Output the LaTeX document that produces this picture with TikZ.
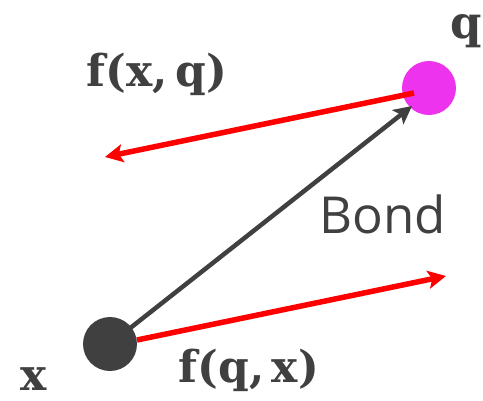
\documentclass[tikz,border=0pt]{standalone}
\usepackage{fontspec}
\setmainfont{DejaVu Serif}
\newfontfamily\bondfont{Open Sans}
\usetikzlibrary{arrows.meta}
\definecolor{dk}{HTML}{404040}
\definecolor{mag}{HTML}{EE33EE}
\definecolor{rd}{HTML}{FF0000}
\begin{document}
\begin{tikzpicture}[x=1pt,y=-1pt,
  atom/.style={circle,inner sep=0pt,minimum size=54pt},
  force/.style={rd,line width=5.5pt,-{Stealth[length=18pt,width=18pt,inset=4pt]}},
  bondarrow/.style={dk,line width=4.5pt,-{Stealth[length=18pt,width=18pt,inset=4pt]}},
  lab/.style={text=dk,inner sep=0pt}]
\useasboundingbox (0,0) rectangle (483,400);
\node[atom,fill=dk] (x) at (110,344) {};
\node[atom,fill=mag] (q) at (429,88) {};
\coordinate (qs) at (414,93);
\coordinate (t1) at (105,157);
\coordinate (xs) at (137,340);
\coordinate (t2) at (446,276);
\coordinate (bt) at (412,106);
\draw[bondarrow] (x.center) -- (bt);
\draw[force] (qs) -- (t1);
\draw[force] (xs) -- (t2);
\node[lab,font=\fontsize{44}{50}\selectfont\bfseries] (fxq) at (157,74) {f(x,\,q)};
\node[lab,font=\fontsize{44}{50}\selectfont\bfseries] (fqx) at (249,370) {f(q,\,x)};
\node[lab,font=\fontsize{44}{50}\selectfont\bfseries,anchor=base] (xl) at (34,390) {x};
\node[lab,font=\fontsize{45}{50}\selectfont\bfseries,anchor=base] (ql) at (466,38) {q};
\node[lab,font=\bondfont\fontsize{51}{56}\selectfont,anchor=base] (bond) at (383,233) {Bond};
\end{tikzpicture}
\end{document}
